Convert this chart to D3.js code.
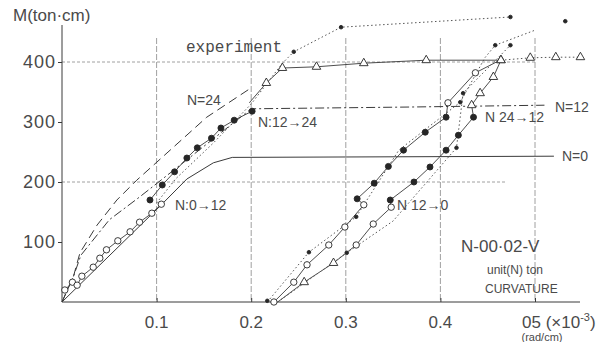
<!DOCTYPE html>
<html>
<head>
<meta charset="utf-8">
<script src="https://cdn.jsdelivr.net/npm/d3@7"></script>
<style>
  body { margin: 0; background: #fff; }
  svg { display: block; }
  text { font-family: "Liberation Sans", "DejaVu Sans", sans-serif; fill: #4a4a4a; }
</style>
</head>
<body>
<div id="chart"></div>
<script>
// curvature in 1e-3 rad/cm, moment in ton.cm
const xTicks = [0.1, 0.2, 0.3, 0.4];
const yTicks = [100, 200, 300, 400];
const xGrid = [0.1, 0.2, 0.3, 0.4, 0.5];
const yGrid = [200, 400];

// theoretical curves
const theoryN0 = [[0,0],[0.105,162],[0.132,205],[0.16,232],[0.18,241],[0.52,243]];
const theoryN12 = [[0,0],[0.012,42],[0.02,78],[0.05,137],[0.082,175],[0.132,237],[0.2,322],[0.37,325],[0.51,328]];
const theoryN24 = [[0,0],[0.012,42],[0.019,82],[0.037,128],[0.058,170],[0.079,203],[0.153,308],[0.201,358]];

// experiment, first loading
const expN0 = [[0.003,20],[0.011,33],[0.016,28],[0.021,43],[0.033,58],[0.04,73],[0.047,87],[0.059,102],[0.072,117],[0.082,133],[0.095,148],[0.105,163]];
const expN12 = [[0.093,170],[0.106,195],[0.119,217],[0.132,240],[0.143,257],[0.158,273],[0.168,290],[0.182,303],[0.201,318]];
const expN24 = [[0.198,332],[0.216,365],[0.233,390],[0.269,392],[0.319,398],[0.385,403],[0.464,403]];
const expN24Tail = [[0.464,403],[0.495,407],[0.522,408],[0.548,408]];
const expUpper = [[0.1,165],[0.12,205],[0.16,265],[0.2,330],[0.233,398],[0.245,417],[0.295,458],[0.474,475]];
const expUpperDots = [[0.245,417],[0.295,458],[0.474,475],[0.532,468]];

// reloading branches
const reloadA = [[0.224,0],[0.245,33],[0.259,62],[0.282,95],[0.299,125],[0.319,162],[0.312,172],[0.33,198],[0.345,226],[0.361,253],[0.384,283],[0.406,308],[0.408,332],[0.437,382],[0.463,403]];
const reloadAOpen = [[0.224,0],[0.245,33],[0.259,62],[0.282,95],[0.299,125],[0.319,162],[0.408,332],[0.437,382]];
const reloadADots = [[0.312,172],[0.33,198],[0.345,226],[0.361,253],[0.384,283],[0.406,308]];
const reloadB = [[0.228,0],[0.256,33],[0.287,65],[0.311,95],[0.329,130],[0.348,158],[0.347,170],[0.372,200],[0.389,225],[0.406,253],[0.419,278],[0.435,308],[0.433,328],[0.442,348],[0.456,375],[0.464,403]];
const reloadBOpen = [[0.311,95],[0.329,130],[0.348,158]];
const reloadBTri = [[0.256,33],[0.287,65],[0.433,328],[0.442,348],[0.456,375],[0.464,403]];
const reloadBDots = [[0.347,170],[0.372,200],[0.389,225],[0.406,253],[0.419,278],[0.435,308]];
const dotA = [[0.217,0],[0.261,83],[0.311,142],[0.356,253],[0.421,333],[0.447,407],[0.458,428],[0.5,453]];
const dotB = [[0.228,0],[0.301,82],[0.35,135],[0.417,257],[0.424,348],[0.474,428]];
const dotMarks = [[0.217,2],[0.261,83],[0.311,142],[0.301,82],[0.417,257],[0.421,333],[0.424,348],[0.458,428],[0.474,428]];

const width = 613, height = 342;
const svg = d3.select("#chart").append("svg")
  .attr("width", width).attr("height", height);

const x = d3.scaleLinear().domain([0, 0.5]).range([62, 535]);
const y = d3.scaleLinear().domain([0, 400]).range([302, 62]);
const line = d3.line().x(d => x(d[0])).y(d => y(d[1]));
const ink = "#3a3a3a";

// grid
svg.selectAll(".vg").data(xGrid).enter().append("line")
  .attr("x1", d => x(d)).attr("x2", d => x(d))
  .attr("y1", y(440)).attr("y2", y(0))
  .attr("stroke", "#888").attr("stroke-width", 0.8).attr("stroke-dasharray", "6,2");
svg.selectAll(".hg").data(yGrid).enter().append("line")
  .attr("x1", x(0)).attr("x2", d => d === 400 ? x(0.5) : x(0.47))
  .attr("y1", d => y(d)).attr("y2", d => y(d))
  .attr("stroke", "#888").attr("stroke-width", 0.8).attr("stroke-dasharray", "3,2");

// axes
const xAxis = d3.axisBottom(x).tickValues(xTicks.concat([0.5])).tickSize(-4).tickFormat("");
svg.append("g").attr("transform", "translate(0," + y(0) + ")").call(xAxis)
  .call(g => g.select(".domain").attr("d", "M" + x(0) + ",0H580").attr("stroke", ink))
  .call(g => g.selectAll(".tick line").attr("stroke", ink));
const yAxis = d3.axisLeft(y).tickValues(yTicks).tickSize(4).tickFormat("");
svg.append("g").attr("transform", "translate(" + x(0) + ",0)").call(yAxis)
  .call(g => g.select(".domain").attr("d", "M0,25V" + y(0)).attr("stroke", ink))
  .call(g => g.selectAll(".tick line").attr("stroke", ink));

svg.selectAll(".xl").data(xTicks).enter().append("text")
  .attr("x", d => x(d)).attr("y", 328).attr("text-anchor", "middle")
  .style("font-size", "17px").text(d => d3.format(".1f")(d));
svg.append("text").attr("x", 522).attr("y", 328).style("font-size", "17px")
  .html('05 (×10<tspan dy="-7" font-size="11">-3</tspan><tspan dy="7">)</tspan>');
svg.append("text").attr("x", 542).attr("y", 341).attr("text-anchor", "middle")
  .style("font-size", "11px").text("(rad/cm)");
svg.selectAll(".yl").data(yTicks).enter().append("text")
  .attr("x", 56).attr("y", d => y(d) + 6).attr("text-anchor", "end")
  .style("font-size", "18px").style("letter-spacing", "1px").text(d => d);
svg.append("text").attr("x", 13).attr("y", 21).style("font-size", "17px").text("M(ton·cm)");

// theory curves
svg.append("path").attr("d", line(theoryN0)).attr("fill", "none").attr("stroke", ink).attr("stroke-width", 1);
svg.append("path").attr("d", line(theoryN12)).attr("fill", "none").attr("stroke", ink).attr("stroke-width", 1).attr("stroke-dasharray", "9,3,2,3");
svg.append("path").attr("d", line(theoryN24)).attr("fill", "none").attr("stroke", ink).attr("stroke-width", 1).attr("stroke-dasharray", "9,5");

// experiment lines
const solid = [expN0, expN12, expN24, reloadA, reloadB];
solid.forEach(s => svg.append("path").attr("d", line(s)).attr("fill", "none").attr("stroke", ink).attr("stroke-width", 0.9));
const dotted = [expUpper, expN24Tail, dotA, dotB];
dotted.forEach(s => svg.append("path").attr("d", line(s)).attr("fill", "none").attr("stroke", "#555").attr("stroke-width", 1).attr("stroke-dasharray", "1.5,2.5"));

// markers
function circles(data, r, filled) {
  svg.append("g").selectAll("circle").data(data).enter().append("circle")
    .attr("cx", d => x(d[0])).attr("cy", d => y(d[1])).attr("r", r)
    .attr("fill", filled ? "#262626" : "#fff").attr("stroke", "#262626").attr("stroke-width", 0.9);
}
function triangles(data) {
  const sym = d3.symbol().type(d3.symbolTriangle).size(32);
  svg.append("g").selectAll("path").data(data).enter().append("path")
    .attr("d", sym).attr("transform", d => "translate(" + x(d[0]) + "," + y(d[1]) + ")")
    .attr("fill", "#fff").attr("stroke", "#262626").attr("stroke-width", 0.9);
}
circles(expN0, 3.2, false);
circles(expN12, 3, true);
triangles(expN24.slice(1));
triangles(expN24Tail.slice(1));
circles(expUpperDots, 1.8, true);
circles(reloadAOpen, 3.2, false);
circles(reloadADots, 3, true);
circles(reloadBOpen, 3.2, false);
triangles(reloadBTri);
circles(reloadBDots, 3, true);
circles(dotMarks, 1.8, true);

// labels
svg.append("text").attr("x", 186).attr("y", 52)
  .style("font-family", "'Liberation Mono', 'DejaVu Sans Mono', monospace").style("font-size", "16px")
  .text("experiment");
const labels = [
  ["N=24", 187, 105, 14], ["N:12→24", 258, 127, 14], ["N:0→12", 175, 210, 14],
  ["N 24→12", 485, 122, 14], ["N=12", 555, 112, 14], ["N=0", 562, 161, 14],
  ["N 12→0", 397, 210, 14], ["N-00·02-V", 461, 252, 17],
  ["unit(N) ton", 487, 274, 12], ["CURVATURE", 485, 293, 12]
];
svg.selectAll(".lab").data(labels).enter().append("text")
  .attr("x", d => d[1]).attr("y", d => d[2]).style("font-size", d => d[3] + "px").text(d => d[0]);
</script>
</body>
</html>
